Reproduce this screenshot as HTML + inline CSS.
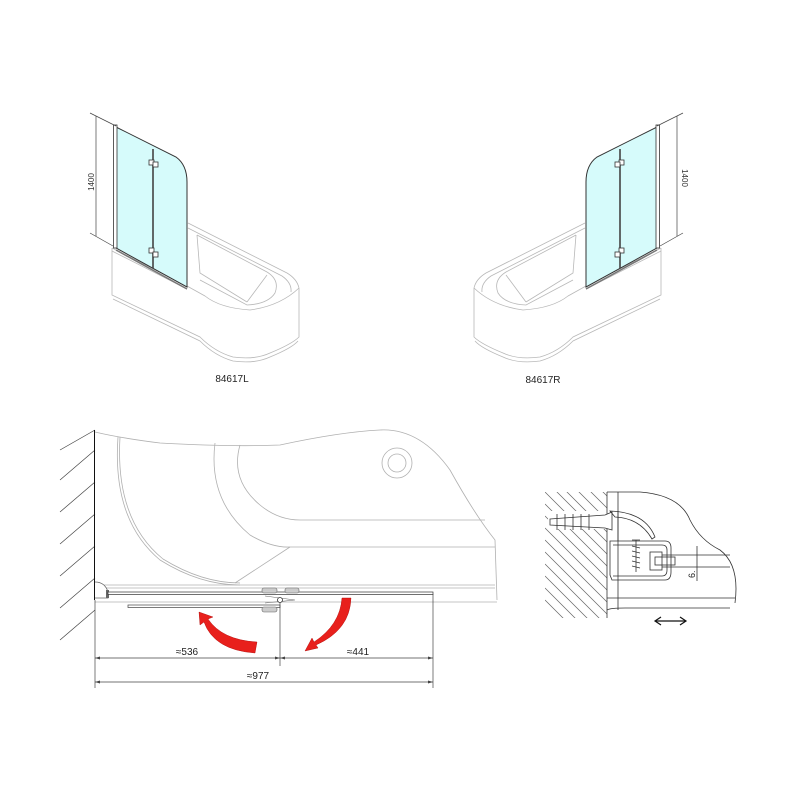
<!DOCTYPE html>
<html><head><meta charset="utf-8"><style>html,body{margin:0;padding:0;background:#fff;}svg{display:block}</style></head>
<body>
<svg width="800" height="800" viewBox="0 0 800 800" xmlns="http://www.w3.org/2000/svg" font-family="Liberation Sans, sans-serif">
<defs>
<g id="view">
  <!-- tub -->
  <g fill="none" stroke="#b8b8b8" stroke-width="0.8">
    <path d="M112,248 L187,286 L205,296 Q220,308 250,310 Q280,306 299,288"/>
    <path d="M112,251 L187,289"/>
    <path d="M112,248 L112,295 L200,337 Q215,352 233,357 Q255,360 270,353 Q292,344 299,337 L299,288"/>
    <path d="M113,299 L200,341 Q215,356 233,361 Q255,364 270,357 Q292,348 298,341"/>
    <path d="M188,223 L287,273 Q297,279 299,288"/>
    <path d="M188,228 L282,276 Q292,283 291,292"/>
    <path d="M197,235 L267,272 Q280,280 275,293 Q268,304 247,305 L200,280"/>
    <path d="M197,235 L200,273 L247,302 M267,275 L247,302"/>
  </g>
  <!-- glass -->
  <path d="M116,127 L176,157 Q187,165 187,182 L187,287 L116,248 Z" fill="#d6fbfb" stroke="#333" stroke-width="1"/>
  <line x1="153" y1="149" x2="153" y2="268" stroke="#444" stroke-width="1.6"/>
  <rect x="149" y="160" width="5" height="5" fill="#fff" stroke="#333" stroke-width="0.8"/>
  <rect x="153" y="162" width="5" height="5" fill="#fff" stroke="#333" stroke-width="0.8"/>
  <rect x="149" y="248" width="5" height="5" fill="#fff" stroke="#333" stroke-width="0.8"/>
  <rect x="153" y="252" width="5" height="5" fill="#fff" stroke="#333" stroke-width="0.8"/>
  <rect x="113.5" y="125" width="3.5" height="123" fill="#fff" stroke="#333" stroke-width="0.8"/>
  <path d="M116,250 L187,289" stroke="#777" stroke-width="1.5"/>
  <!-- dimension -->
  <g stroke="#444" stroke-width="0.7" fill="none">
    <line x1="96" y1="116" x2="96" y2="236"/>
    <line x1="90" y1="113" x2="116" y2="126"/>
    <line x1="90" y1="233" x2="113" y2="246"/>
  </g>
</g>
</defs>
<use href="#view"/>
<use href="#view" transform="translate(773,0) scale(-1,1)"/>
<text x="0" y="0" font-size="8" fill="#333" transform="translate(94,182) rotate(-90)" text-anchor="middle">1400</text>
<text x="0" y="0" font-size="8" fill="#333" transform="translate(682,178) rotate(90)" text-anchor="middle">1400</text>
<text x="232" y="382" font-size="10" fill="#222" text-anchor="middle">84617L</text>
<text x="543" y="383" font-size="10" fill="#222" text-anchor="middle">84617R</text>

<!-- plan view -->
<g stroke="#444" stroke-width="0.7">
  <line x1="60" y1="450" x2="95" y2="430"/>
  <line x1="60" y1="480" x2="95" y2="450"/>
  <line x1="60" y1="512" x2="95" y2="482"/>
  <line x1="60" y1="544" x2="95" y2="514"/>
  <line x1="60" y1="576" x2="95" y2="546"/>
  <line x1="60" y1="608" x2="95" y2="578"/>
  <line x1="60" y1="640" x2="95" y2="610"/>
</g>
<line x1="94.5" y1="430" x2="94.5" y2="600" stroke="#111" stroke-width="1"/>
<g fill="none" stroke="#b0b0b0" stroke-width="0.8">
  <path d="M95,432 Q120,438 160,443 Q230,447 280,445 Q340,432 380,430 Q420,428 450,470 Q475,515 495,540 L497,600"/>
  <line x1="95" y1="602" x2="497" y2="602"/>
  <line x1="95" y1="585" x2="495" y2="585"/>
  <line x1="95" y1="588" x2="495" y2="588"/>
  <path d="M118,437 Q112,520 160,560 Q200,585 240,585"/>
  <path d="M120,437 Q115,520 163,559 Q202,583 240,583"/>
  <path d="M215,443 Q208,500 250,535 Q272,548 290,547 L495,547"/>
  <path d="M240,445 Q230,480 260,505 Q278,520 300,520 L485,520"/>
  <line x1="290" y1="547" x2="235" y2="583"/>
  <circle cx="397" cy="463" r="15"/>
  <circle cx="397" cy="463" r="9"/>
</g>
<!-- wall bracket -->
<path d="M95,582 Q105,582 108,592 L108,598 L95,598" fill="#fff" stroke="#666" stroke-width="0.8"/>
<rect x="106" y="590" width="3" height="8" fill="#666"/>
<!-- glass lines -->
<rect x="108" y="592" width="325" height="2.5" fill="#fff" stroke="#333" stroke-width="0.7"/>
<rect x="128" y="605" width="152" height="2.5" fill="#fff" stroke="#444" stroke-width="0.7"/>
<g fill="#ccc" stroke="#666" stroke-width="0.6">
  <rect x="262" y="588" width="15" height="5" rx="2"/>
  <rect x="285" y="588" width="14" height="5" rx="2"/>
  <rect x="262" y="607" width="15" height="5" rx="2"/>
</g>
<path d="M265,596 L295,600 L265,603" fill="none" stroke="#666" stroke-width="0.6"/>
<circle cx="280" cy="600" r="2.5" fill="#fff" stroke="#333" stroke-width="0.8"/>
<!-- red arrows -->
<path d="M199,612 L213,617 L208,619 Q222,640 257,642 L255,653 Q214,650 204,622 L200,625 Z" fill="#e8201c" stroke="#a00" stroke-width="0.4"/>
<path d="M342,598 L351,598 Q350,630 316,645 L318,648 L305,651 L312,638 L314,642 Q340,625 342,598 Z" fill="#e8201c" stroke="#a00" stroke-width="0.4"/>
<!-- dimensions -->
<g stroke="#444" stroke-width="0.7" fill="none">
  <line x1="95" y1="600" x2="95" y2="688"/>
  <line x1="433" y1="594" x2="433" y2="688"/>
  <line x1="280" y1="602" x2="280" y2="666"/>
  <line x1="95" y1="658" x2="433" y2="658"/>
  <line x1="95" y1="682" x2="433" y2="682"/>
</g>
<g fill="#444">
  <path d="M95,658 l5,-1.5 v3 z"/><path d="M280,658 l-5,-1.5 v3 z"/>
  <path d="M280,658 l5,-1.5 v3 z"/><path d="M433,658 l-5,-1.5 v3 z"/>
  <path d="M95,682 l5,-1.5 v3 z"/><path d="M433,682 l-5,-1.5 v3 z"/>
</g>
<text x="187" y="655" font-size="10" fill="#222" text-anchor="middle">≈536</text>
<text x="358" y="655" font-size="10" fill="#222" text-anchor="middle">≈441</text>
<text x="258" y="679" font-size="10" fill="#222" text-anchor="middle">≈977</text>

<!-- detail -->
<clipPath id="hc"><rect x="545" y="492" width="62" height="126"/></clipPath>
<g clip-path="url(#hc)" stroke="#666" stroke-width="0.7">
  <line x1="545" y1="480" x2="685" y2="620"/>
  <line x1="545" y1="492" x2="675" y2="622"/>
  <line x1="545" y1="504" x2="665" y2="624"/>
  <line x1="545" y1="516" x2="655" y2="626"/>
  <line x1="545" y1="528" x2="645" y2="628"/>
  <line x1="545" y1="540" x2="635" y2="630"/>
  <line x1="545" y1="552" x2="625" y2="632"/>
  <line x1="545" y1="564" x2="615" y2="634"/>
  <line x1="545" y1="576" x2="605" y2="636"/>
  <line x1="545" y1="588" x2="600" y2="643"/>
  <line x1="545" y1="600" x2="600" y2="655"/>
  <line x1="555" y1="480" x2="695" y2="620"/>
  <line x1="567" y1="480" x2="707" y2="620"/>
  <line x1="579" y1="480" x2="719" y2="620"/>
  <line x1="591" y1="480" x2="731" y2="620"/>
  <line x1="603" y1="480" x2="743" y2="620"/>
</g>
<rect x="548" y="511" width="58" height="18" fill="#fff"/>
<g fill="none" stroke="#333" stroke-width="0.8">
  <line x1="607" y1="492" x2="607" y2="618"/>
  <path d="M607,492 L640,492 Q680,495 690,520 Q700,540 720,550 Q740,565 735,603"/>
  <line x1="618" y1="492" x2="618" y2="610"/>
  <line x1="607" y1="598" x2="735" y2="598"/>
  <path d="M607,610 Q610,608 625,608 L730,608"/>
  <path d="M550,519 L605,515 L612,512 L612,530 L605,528 L550,525 Z" fill="#fff"/>
  <path d="M557,514 v16 M565,514 v16 M573,514 v16 M581,514 v16 M589,514 v16"/>
  <path d="M610,511 Q645,512 655,537 L652,539 Q640,518 615,517 Z"/>
  <line x1="618" y1="511" x2="618" y2="541"/>
  <path d="M610,541 L665,541 Q671,541 671,548 L671,572 Q671,580 665,580 L612,580 L610,575 Z"/>
  <path d="M613,545 L662,545 Q667,545 667,550 L667,570 Q667,576 662,576 L613,576"/>
  <rect x="650" y="552" width="12" height="18"/>
  <rect x="655" y="557" width="20" height="8"/>
  <line x1="662" y1="555" x2="730" y2="555"/>
  <line x1="662" y1="567" x2="730" y2="567"/>
  <line x1="697" y1="546" x2="697" y2="581"/>
  <path d="M632,540 L640,540 M636,540 L636,572" />
  <path d="M632,546 l8,2 M632,551 l8,2 M632,556 l8,2 M632,561 l8,2 M632,566 l8,2"/>
</g>
<text x="0" y="0" font-size="9" fill="#222" transform="translate(695,578) rotate(-90)">6.</text>
<g stroke="#111" stroke-width="1.2" fill="none">
  <line x1="656" y1="621" x2="685" y2="621"/>
  <path d="M661,617 L655,621 L661,625 M680,617 L686,621 L680,625"/>
</g>
</svg>
</body></html>
